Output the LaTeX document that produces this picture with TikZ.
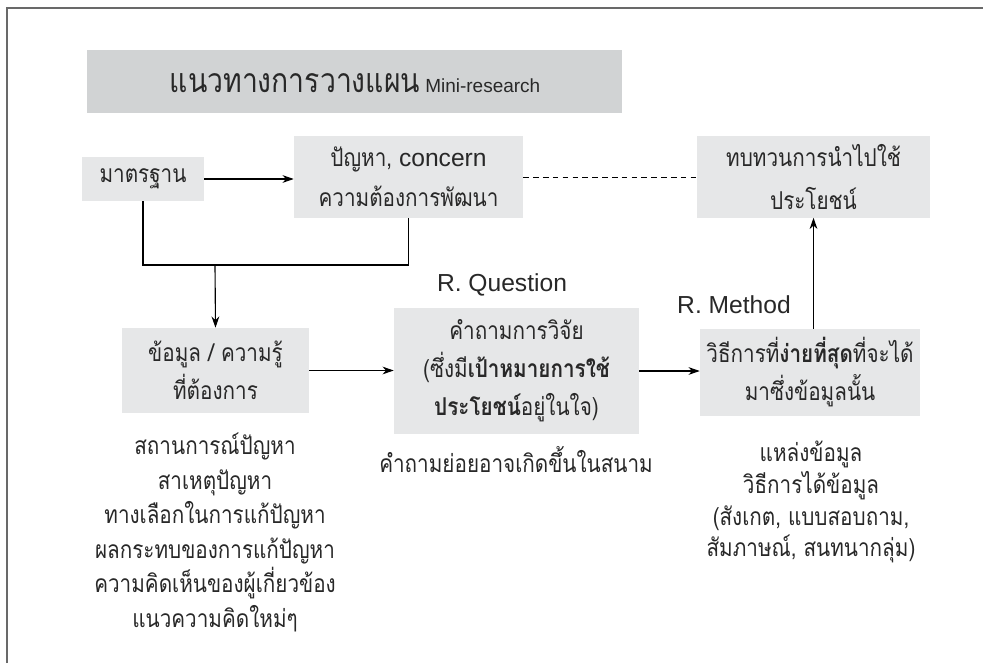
\documentclass[tikz,border=0pt]{standalone}
\usepackage{fontspec}
\setmainfont{Liberation Sans}
\newfontfamily\thaifont[Script=Thai, FakeStretch=0.84]{Loma}
\usetikzlibrary{arrows, arrows.meta, positioning, calc}
\newcommand{\pxu}{0.025cm}
\definecolor{boxgray}{RGB}{230,231,232}
\definecolor{titlegray}{RGB}{209,211,212}
\definecolor{framegray}{RGB}{105,105,105}
\definecolor{ink}{RGB}{40,40,40}
\tikzset{>={Stealth[length=8pt, width=5.5pt]}}
\tikzset{
	stepbox/.style={fill=boxgray, text=ink, align=center, inner sep=0pt, font=\thaifont\fontsize{17.5}{27}\selectfont},
	notetext/.style={text=ink, align=center, inner sep=0pt, font=\thaifont\fontsize{17.5}{24.5}\selectfont},
	tag/.style={text=ink, inner sep=0pt, font=\fontsize{17.5}{20}\selectfont},
	link/.style={thick, ->}
}

\begin{document}
\begin{tikzpicture}[x=\pxu, y=-\pxu]

			\useasboundingbox (0,0) rectangle (983,663);
			\draw [framegray, line width=1.4pt] (7,663) -- (7,8) -- (983,8);

			% title
			\node [fill=titlegray, minimum width=535*\pxu, minimum height=63*\pxu] (title) at (354.5,81.5) {};
			\node [text=ink, font=\fontsize{13.5}{18}\selectfont] (titletext) at (355,83) {{\thaifont\fontsize{24}{18}\selectfont แนวทางการวางแผน} Mini-research};

			% boxes
			\node [stepbox, minimum width=122*\pxu, minimum height=44*\pxu] (std) at (143,179) {มาตรฐาน};
			\node [stepbox, minimum width=229*\pxu, minimum height=82*\pxu, font=\thaifont\fontsize{17.5}{28.5}\selectfont] (prob) at (408.5,177) {ปัญหา, {\rmfamily\fontsize{17.5}{20}\selectfont concern}\\ความต้องการพัฒนา};
			\node [stepbox, minimum width=233*\pxu, minimum height=81*\pxu, font=\thaifont\fontsize{17.5}{31}\selectfont] (review) at (813.5,177) {ทบทวนการนำไปใช้\\ประโยชน์};
			\node [stepbox, minimum width=187*\pxu, minimum height=85*\pxu] (info) at (215.5,370.5) {ข้อมูล / ความรู้\\ที่ต้องการ};
			\node [stepbox, minimum width=245*\pxu, minimum height=126*\pxu] (rq) at (516.5,371) {คำถามการวิจัย\\(ซึ่งมี\textbf{เป้าหมายการใช้}\\\textbf{ประโยชน์}อยู่ในใจ)};
			\node [stepbox, minimum width=220*\pxu, minimum height=87*\pxu] (method) at (810,372.5) {วิธีการที่\textbf{ง่ายที่สุด}ที่จะได้\\มาซึ่งข้อมูลนั้น};

			% labels
			\node [tag] (rqtag) at (502,285) {R. Question};
			\node [tag] (methodtag) at (734,305) {R. Method};

			% notes under the boxes
			\node [notetext] (infonote) at (215,532.5) {สถานการณ์ปัญหา\\สาเหตุปัญหา\\ทางเลือกในการแก้ปัญหา\\ผลกระทบของการแก้ปัญหา\\ความคิดเห็นของผู้เกี่ยวข้อง\\แนวความคิดใหม่ๆ};
			\node [notetext] (rqnote) at (516,460) {คำถามย่อยอาจเกิดขึ้นในสนาม};
			\node [notetext, font=\thaifont\fontsize{17.5}{22.7}\selectfont] (methodnote) at (811,502) {แหล่งข้อมูล\\วิธีการได้ข้อมูล\\(สังเกต, แบบสอบถาม,\\สัมภาษณ์, สนทนากลุ่ม)};

			% connectors
			\coordinate (join) at (215,265);
			\draw [thick] (std.south) |- (join) -| (prob.south);
			\draw [link] (join) -- (info.north);
			\draw [link] (std.east) -- (std.east -| prob.west);
			\draw [link] (info.east) -- (info.east -| rq.west);
			\draw [link] (rq.east) -- (rq.east -| method.west);
			\draw [link] (review.south |- method.north) -- (review.south);
			\draw [thin, dash pattern=on 4pt off 3pt] (prob.east) -- (review.west);

\end{tikzpicture}
\end{document}
